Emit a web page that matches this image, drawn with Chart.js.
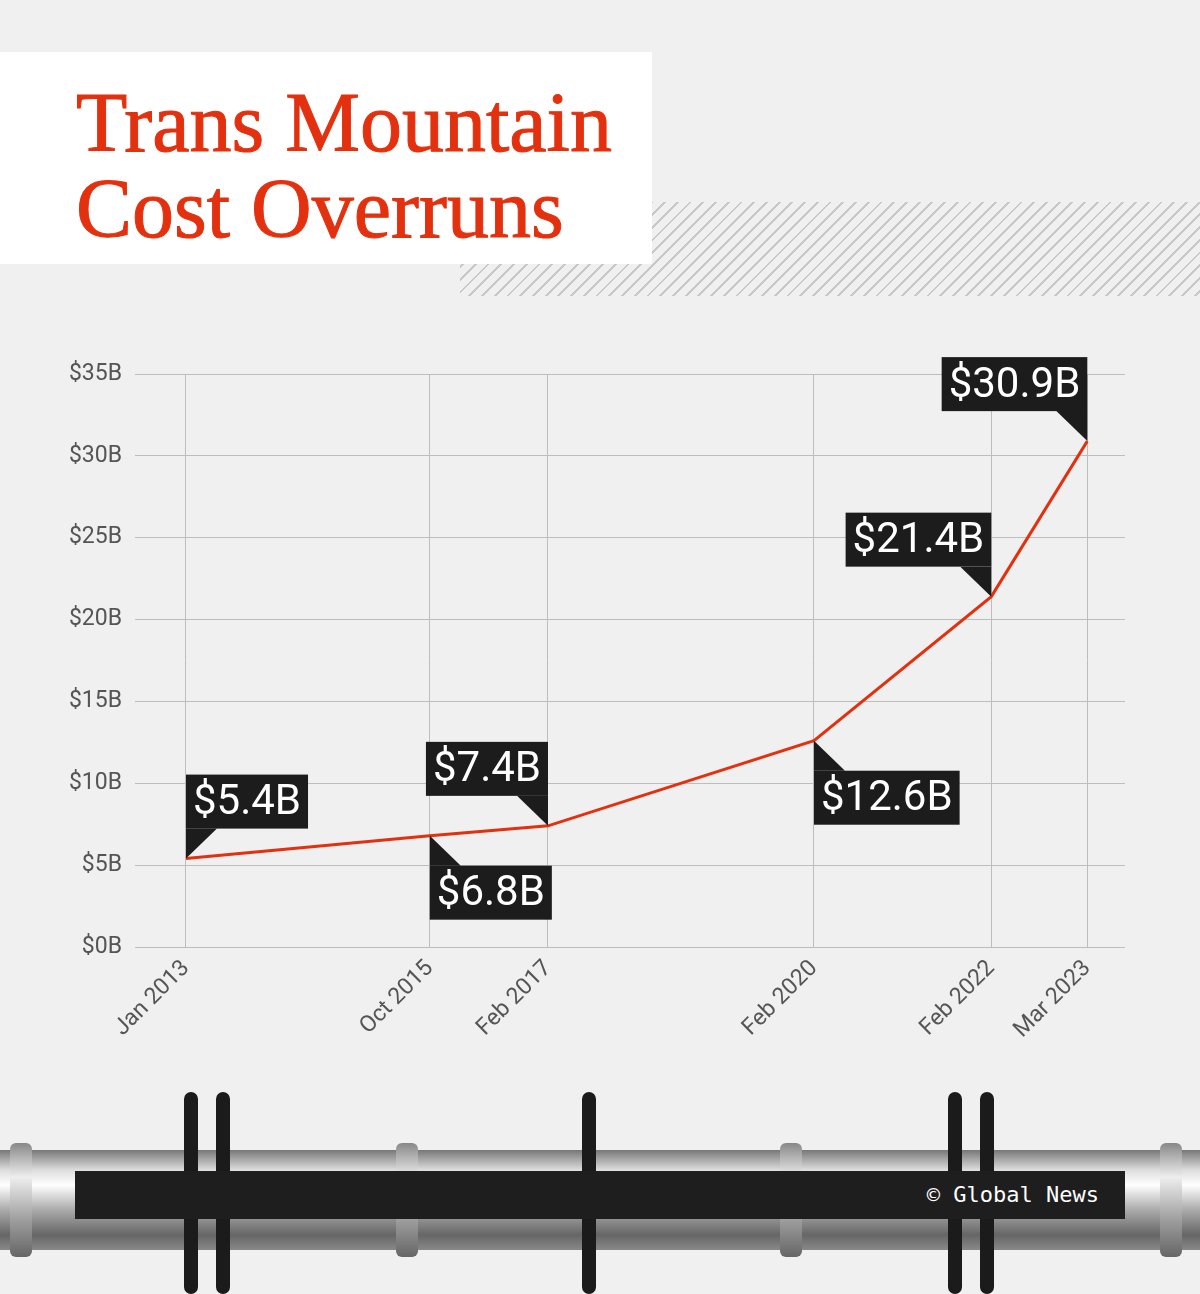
<!DOCTYPE html>
<html>
<head>
<meta charset="utf-8">
<script src="https://cdn.jsdelivr.net/npm/chart.js@4.4.0/dist/chart.umd.min.js"></script>
<style>
  html, body { margin: 0; padding: 0; }
  body { width: 1200px; height: 1294px; background: #f0f0f0; position: relative; overflow: hidden; font-family: Roboto, sans-serif; }
  .hatch { position: absolute; left: 460px; top: 202px; width: 740px; height: 94px;
    background: repeating-linear-gradient(135deg, #c8c8c8 0 2px, transparent 2px 9px); }
  .title-box { position: absolute; left: 0; top: 52px; width: 652px; height: 212px; background: #fff; }
  .title-box h1 { margin: 0; position: absolute; left: 76px; top: 28px; font-family: "Liberation Serif", serif;
    font-weight: normal; color: #e3310f; font-size: 84px; line-height: 86px; letter-spacing: 0px;
    -webkit-text-stroke: 1px #e3310f; }
  .pipe { position: absolute; left: 0; top: 1150px; width: 1200px; height: 100px;
    background: linear-gradient(#777 0%, #ddd 20%, #fff 35%, #aaa 60%, #666 85%, #888 100%); }
  .joint { position: absolute; top: 1143px; width: 22px; height: 114px; border-radius: 6px;
    background: linear-gradient(#888, #eee 30%, #999 70%, #666); }
  .post { position: absolute; top: 1092px; width: 14px; height: 202px; background: #1b1b1b; border-radius: 7px; }
  .footer { position: absolute; left: 75px; top: 1171px; width: 1050px; height: 48px; background: #1e1e1e;
    color: #fff; font-family: "DejaVu Sans Mono", monospace; font-size: 22px; text-align: right;
    line-height: 48px; box-sizing: border-box; padding-right: 26px; }
  #wrap { position: absolute; left: 0; top: 0; width: 1200px; height: 1294px; }
</style>
</head>
<body>
<div class="hatch"></div>
<div class="title-box"><h1>Trans Mountain<br>Cost Overruns</h1></div>
<div class="pipe"></div>
<div class="joint" style="left:10px"></div>
<div class="joint" style="left:396px"></div>
<div class="joint" style="left:780px"></div>
<div class="joint" style="left:1160px"></div>
<div class="post" style="left:184px"></div>
<div class="post" style="left:216px"></div>
<div class="post" style="left:582px"></div>
<div class="post" style="left:948px"></div>
<div class="post" style="left:980px"></div>
<div class="footer">© Global News</div>
<div id="wrap"><canvas id="chart"></canvas></div>
<script>
const dateLabels = ["Jan 2013", "Oct 2015", "Feb 2017", "Feb 2020", "Feb 2022", "Mar 2023"];
const monthsSinceStart = [0, 33, 49, 85, 109, 122];
const costBillions = [5.4, 6.8, 7.4, 12.6, 21.4, 30.9];
const calloutTexts = ["$5.4B", "$6.8B", "$7.4B", "$12.6B", "$21.4B", "$30.9B"];
const calloutSides = ["aboveLeft", "belowLeft", "aboveRight", "belowLeft", "aboveRight", "aboveRight"];
const yTicks = [0, 5, 10, 15, 20, 25, 30, 35];

const callouts = {
  id: "callouts",
  afterDatasetsDraw(chart) {
    const ctx = chart.ctx;
    const meta = chart.getDatasetMeta(0);
    ctx.save();
    ctx.font = "42px Roboto, sans-serif";
    ctx.textBaseline = "middle";
    meta.data.forEach((pt, i) => {
      const x = pt.x, y = pt.y;
      const text = calloutTexts[i];
      const w = ctx.measureText(text).width + 14;
      const h = 54, gap = 30, tri = 31;
      const side = calloutSides[i];
      let bx, by;
      ctx.fillStyle = "#1c1c1c";
      ctx.beginPath();
      if (side === "aboveLeft") {
        bx = x; by = y - gap - h;
        ctx.moveTo(x, y); ctx.lineTo(x, y - gap); ctx.lineTo(x + tri, y - gap);
      } else if (side === "belowLeft") {
        bx = x; by = y + gap;
        ctx.moveTo(x, y); ctx.lineTo(x, y + gap); ctx.lineTo(x + tri, y + gap);
      } else {
        bx = x - w; by = y - gap - h;
        ctx.moveTo(x, y); ctx.lineTo(x, y - gap); ctx.lineTo(x - tri, y - gap);
      }
      ctx.closePath();
      ctx.fill();
      ctx.fillRect(bx, by, w, h);
      ctx.fillStyle = "#fff";
      ctx.fillText(text, bx + 7, by + h / 2 + 2);
    });
    ctx.restore();
  }
};

new Chart(document.getElementById("chart"), {
  type: "line",
  data: {
    datasets: [{
      data: monthsSinceStart.map((m, i) => ({ x: m, y: costBillions[i] })),
      borderColor: "#e3310f",
      borderWidth: 3,
      pointRadius: 0,
      tension: 0,
    }],
  },
  options: {
    responsive: true,
    maintainAspectRatio: false,
    animation: false,
    layout: { padding: { left: 0, top: 374, right: 75, bottom: 0 } },
    plugins: { legend: { display: false }, tooltip: { enabled: false } },
    scales: {
      x: {
        type: "linear",
        min: -6.9,
        max: 127.1,
        afterBuildTicks(axis) { axis.ticks = monthsSinceStart.map(v => ({ value: v })); },
        afterFit(axis) { axis.height = 347; },
        ticks: {
          autoSkip: false,
          maxRotation: 45,
          minRotation: 45,
          color: "#555",
          font: { family: "Roboto", size: 23 },
          padding: 8,
          callback: (v) => dateLabels[monthsSinceStart.indexOf(v)] || "",
        },
        grid: { color: "#bdbdbd", drawTicks: false },
        border: { display: false },
      },
      y: {
        min: 0,
        max: 35,
        afterBuildTicks(axis) { axis.ticks = yTicks.map(v => ({ value: v })); },
        afterFit(axis) { axis.width = 135; },
        ticks: {
          color: "#555",
          font: { family: "Roboto", size: 23 },
          padding: 13,
          callback: (v) => "$" + v + "B",
        },
        grid: { color: "#bdbdbd", drawTicks: false },
        border: { display: false },
      },
    },
  },
  plugins: [callouts],
});
</script>
</body>
</html>
